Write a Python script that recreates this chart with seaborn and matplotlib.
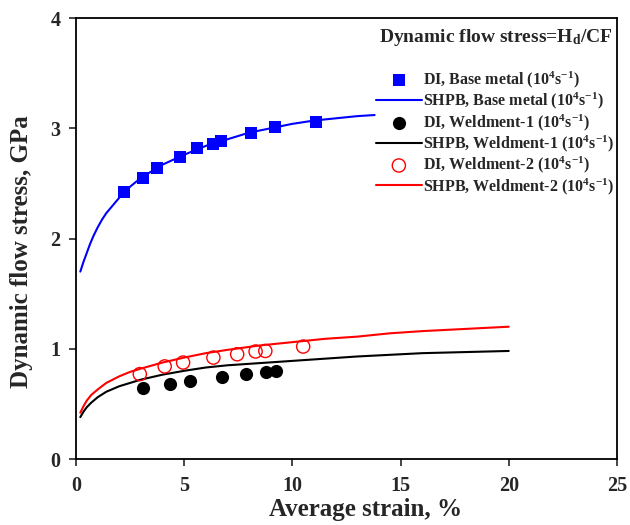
import numpy as np
import pandas as pd
import matplotlib
matplotlib.use("Agg")
import matplotlib.pyplot as plt
import seaborn as sns

# ---- data ----
bm_di_x = [2.2, 3.1, 3.75, 4.8, 5.6, 6.35, 6.7, 8.1, 9.2, 11.1]
bm_di_y = [2.42, 2.55, 2.64, 2.74, 2.82, 2.86, 2.88, 2.96, 3.01, 3.06]
bm_sh_x = [0.2, 0.35, 0.5, 0.65, 0.8, 1.0, 1.2, 1.4, 1.7, 2.0, 2.5, 3.0, 4.0, 5.0, 6.0, 7.0,
           8.0, 9.0, 10.0, 11.0, 12.0, 13.0, 13.8]
bm_sh_y = [1.70, 1.79, 1.87, 1.95, 2.02, 2.10, 2.17, 2.23, 2.30, 2.37, 2.47, 2.55, 2.67, 2.76,
           2.84, 2.90, 2.96, 3.00, 3.04, 3.07, 3.09, 3.11, 3.12]

w1_di_x = [3.1, 4.35, 5.25, 6.75, 7.85, 8.8, 9.25]
w1_di_y = [0.64, 0.68, 0.71, 0.745, 0.77, 0.79, 0.80]
w1_sh_x = [0.2, 0.35, 0.5, 0.7, 1.0, 1.4, 2.0, 2.5, 3.0, 4.0, 5.0, 6.0, 7.0, 8.5, 10.0,
           11.5, 13.0, 14.5, 16.0, 18.0, 20.0]
w1_sh_y = [0.38, 0.43, 0.47, 0.51, 0.56, 0.61, 0.66, 0.69, 0.72, 0.765, 0.80, 0.83, 0.85,
           0.87, 0.89, 0.91, 0.93, 0.945, 0.96, 0.97, 0.98]

w2_di_x = [2.95, 4.1, 4.95, 6.35, 7.45, 8.3, 8.75, 10.5]
w2_di_y = [0.77, 0.84, 0.875, 0.92, 0.95, 0.975, 0.98, 1.02]
w2_sh_x = [0.2, 0.35, 0.5, 0.7, 1.0, 1.4, 2.0, 2.5, 3.0, 4.0, 5.0, 6.0, 7.0, 8.5, 10.0,
           11.5, 13.0, 14.5, 16.0, 18.0, 20.0]
w2_sh_y = [0.42, 0.48, 0.53, 0.58, 0.63, 0.69, 0.75, 0.79, 0.82, 0.875, 0.92, 0.96, 0.99,
           1.03, 1.06, 1.09, 1.11, 1.14, 1.16, 1.18, 1.20]

labels = ["DI, Base metal (10$^4$s$^{-1}$)", "SHPB, Base metal (10$^4$s$^{-1}$)",
          "DI, Weldment-1 (10$^4$s$^{-1}$)", "SHPB, Weldment-1 (10$^4$s$^{-1}$)",
          "DI, Weldment-2 (10$^4$s$^{-1}$)", "SHPB, Weldment-2 (10$^4$s$^{-1}$)"]
x_ticks = [0, 5, 10, 15, 20, 25]
y_ticks = [0, 1, 2, 3, 4]

sns.set_style("ticks")
plt.rcParams['font.family'] = ['Liberation Serif', 'DejaVu Serif']
plt.rcParams['font.weight'] = 'bold'
plt.rcParams['mathtext.fontset'] = 'custom'
plt.rcParams['mathtext.rm'] = 'Liberation Serif:bold'
plt.rcParams['mathtext.it'] = 'Liberation Serif:bold'
plt.rcParams['mathtext.bf'] = 'Liberation Serif:bold'

fig = plt.figure(figsize=(6.3, 5.25), dpi=100)
ax = fig.add_axes([0.1206, 0.1257, 0.8587, 0.8400])

sns.scatterplot(x=bm_di_x, y=bm_di_y, ax=ax, marker='s', s=80, color='#0000ff',
                edgecolor='#0000ff', linewidth=0, label=labels[0], zorder=3)
sns.lineplot(x=bm_sh_x, y=bm_sh_y, ax=ax, color='#0000ff', lw=1.5, label=labels[1])
sns.scatterplot(x=w1_di_x, y=w1_di_y, ax=ax, marker='o', s=90, color='black',
                edgecolor='black', linewidth=0, label=labels[2], zorder=3)
sns.lineplot(x=w1_sh_x, y=w1_sh_y, ax=ax, color='black', lw=1.5, label=labels[3])
sns.scatterplot(x=w2_di_x, y=w2_di_y, ax=ax, marker='o', s=90, facecolor='none',
                edgecolor='red', linewidth=1.0, label=labels[4], zorder=3)
sns.lineplot(x=w2_sh_x, y=w2_sh_y, ax=ax, color='red', lw=1.5, label=labels[5])

ax.set_xlim(0, 25)
ax.set_ylim(0, 4)
ax.set_xticks(x_ticks)
ax.set_yticks(y_ticks)
ax.tick_params(direction='out', length=5, width=1.2, labelsize=14.5)
ax.tick_params(axis='x', pad=7)
ax.tick_params(axis='y', pad=6)
for lab in ax.get_xticklabels() + ax.get_yticklabels():
    lab.set_fontweight('bold')
for sp in ax.spines.values():
    sp.set_visible(True)
    sp.set_linewidth(1.3)
    sp.set_color('black')

ax.set_xlabel("Average strain, %", fontsize=18, fontweight='bold')
ax.set_ylabel("Dynamic flow stress, GPa", fontsize=18, fontweight='bold')
ax.xaxis.set_label_coords(0.536, -0.088)
ax.yaxis.set_label_coords(-0.08, 0.47)

ax.text(0.992, 0.955, "Dynamic flow stress=H$_\\mathrm{d}$/CF", transform=ax.transAxes,
        ha='right', va='center', fontsize=14, fontweight='bold')

leg = ax.legend(loc='upper right', bbox_to_anchor=(1.012, 0.905), frameon=False,
                fontsize=11.5, handlelength=2.9, handletextpad=0.05,
                labelspacing=0.05, borderaxespad=0.2)
for t in leg.get_texts():
    t.set_fontweight('bold')

fig.savefig("out.png", dpi=100)
